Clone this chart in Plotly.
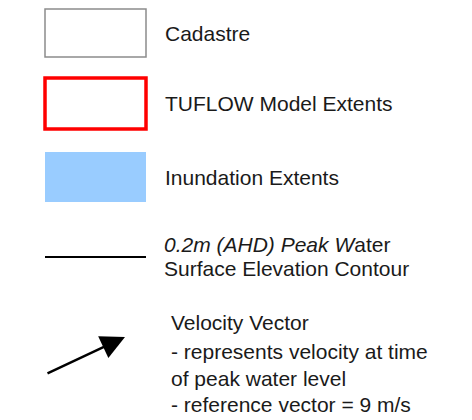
import plotly.graph_objects as go

# Legend entries
box_labels = ["Cadastre", "TUFLOW Model Extents", "Inundation Extents"]
box_line_colors = ["#8c8c8c", "#ff0000", "#99ccff"]
box_fill_colors = ["rgba(0,0,0,0)", "rgba(0,0,0,0)", "#99ccff"]
box_line_widths = [1.5, 3.5, 0]
box_tops = [9, 78, 152]
box_bottoms = [57, 129, 202]

contour_label = ["<i>0.2m (AHD) Peak W</i>ater", "Surface Elevation Contour"]
contour_y = 257
vector_label = ["Velocity Vector", "- represents velocity at time",
                "of peak water level", "- reference vector = 9 m/s"]

W, H = 472, 420
OFF = 8  # page body margin
fig = go.Figure()
fig.add_trace(go.Scatter(x=[0, W], y=[0, H], mode="markers",
                         marker=dict(opacity=0), hoverinfo="skip", showlegend=False))

font = dict(family="Liberation Sans, Arial, sans-serif", size=21, color="#1a1a1a")

for lab, lc, fc, lw, t, b in zip(box_labels, box_line_colors, box_fill_colors,
                                  box_line_widths, box_tops, box_bottoms):
    fig.add_shape(type="rect", xref="x", yref="y", x0=45, x1=146, y0=t, y1=b,
                  line=dict(color=lc, width=lw), fillcolor=fc)
    fig.add_annotation(x=163, y=(t + b) / 2, xref="x", yref="y", text=lab,
                       showarrow=False, xanchor="left", yanchor="middle", font=font)

fig.add_shape(type="line", xref="x", yref="y", x0=45, x1=146, y0=contour_y, y1=contour_y,
              line=dict(color="#000000", width=2))
for i, s in enumerate(contour_label):
    fig.add_annotation(x=162, y=244 + 24 * i, xref="x", yref="y", text=s,
                       showarrow=False, xanchor="left", yanchor="middle", font=font)

fig.add_annotation(x=125, y=337, ax=46, ay=374, xref="x", yref="y", axref="x", ayref="y",
                   text="", showarrow=True, arrowhead=2, arrowsize=2.0, arrowwidth=2.4,
                   arrowcolor="#000000")
for i, (s, yy) in enumerate(zip(vector_label, [322, 351, 378, 404])):
    fig.add_annotation(x=169, y=yy, xref="x", yref="y", text=s,
                       showarrow=False, xanchor="left", yanchor="middle", font=font)

fig.update_xaxes(range=[OFF, W + OFF], visible=False, fixedrange=True)
fig.update_yaxes(range=[H + OFF, OFF], visible=False, fixedrange=True)
fig.update_layout(width=W, height=H, margin=dict(l=0, r=0, t=0, b=0),
                  plot_bgcolor="white", paper_bgcolor="white", showlegend=False)
fig.write_html("out.html")
